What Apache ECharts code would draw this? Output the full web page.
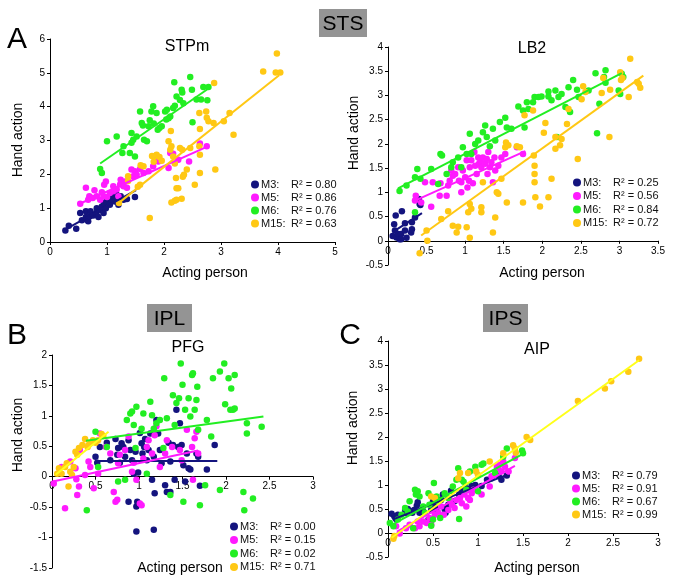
<!DOCTYPE html>
<html><head><meta charset="utf-8">
<script src="https://cdn.jsdelivr.net/npm/echarts@6/dist/echarts.min.js"></script>
<style>html,body{margin:0;padding:0;background:#fff}#c{width:675px;height:587px}</style>
</head><body><div id="c"></div>
<script>
// ---------- DATA ----------
var groups = ['M3','M5','M6','M15'];
// Panel A: STPm
var A_M3 = [[0.27,0.34],[0.33,0.48],[0.46,0.39],[0.53,0.86],[0.56,0.64],[0.63,0.74],[0.63,0.91],[0.65,0.66],[0.67,0.61],[0.7,0.76],[0.71,0.91],[0.76,0.78],[0.81,0.86],[0.82,1.0],[0.85,0.74],[0.88,0.94],[0.91,1.05],[0.94,0.86],[0.95,1.15],[0.98,1.0],[0.99,1.2],[1.02,1.3],[1.05,1.1],[1.08,1.25],[1.11,1.35],[1.14,1.2],[1.17,1.4],[1.2,1.27],[1.2,1.1],[1.24,1.35],[1.29,1.25],[1.35,1.27],[1.49,1.33]];
var A_M5 = [[0.53,1.13],[0.63,1.6],[0.67,1.25],[0.69,1.35],[0.75,1.3],[0.78,1.53],[0.82,1.35],[0.88,1.25],[0.91,1.47],[0.94,1.35],[0.95,1.69],[0.98,1.79],[1.0,1.33],[1.05,1.45],[1.11,1.65],[1.11,1.5],[1.17,1.55],[1.2,1.35],[1.23,1.7],[1.24,1.84],[1.29,1.65],[1.32,1.79],[1.35,1.6],[1.43,2.14],[1.46,1.94],[1.49,2.09],[1.52,1.99],[1.58,2.16],[1.64,2.04],[1.73,2.09],[1.81,2.24],[1.9,2.38],[2.08,2.19],[2.11,2.63],[2.16,2.61],[2.25,2.43],[2.44,2.38],[2.63,2.91],[2.75,2.83]];
var A_M6 = [[0.88,2.16],[0.91,2.04],[1.0,2.98],[1.17,3.12],[1.27,2.63],[1.29,2.83],[1.4,2.63],[1.43,2.93],[1.43,3.22],[1.46,3.02],[1.49,2.53],[1.52,3.12],[1.58,3.86],[1.61,3.52],[1.63,3.44],[1.65,3.02],[1.7,2.98],[1.73,3.42],[1.75,3.6],[1.78,3.86],[1.81,4.01],[1.82,3.5],[1.87,3.81],[1.89,3.32],[1.92,3.37],[1.96,3.42],[2.02,3.86],[2.04,3.62],[2.05,3.91],[2.08,3.66],[2.11,3.71],[2.16,3.96],[2.18,4.72],[2.19,4.03],[2.22,4.3],[2.28,4.2],[2.31,4.5],[2.32,4.42],[2.34,4.1],[2.46,4.88],[2.49,4.5],[2.5,3.54],[2.57,4.21],[2.65,4.21],[2.69,4.58],[2.76,4.19],[2.78,4.58]];
var A_M15 = [[1.21,1.15],[1.37,1.8],[1.37,1.94],[1.54,1.63],[1.58,1.69],[1.59,2.27],[1.64,2.24],[1.75,0.71],[1.79,2.54],[1.82,2.37],[1.85,2.54],[1.87,2.58],[1.92,2.51],[1.96,2.4],[2.08,2.98],[2.11,2.73],[2.12,3.28],[2.13,2.83],[2.13,1.17],[2.16,2.53],[2.19,2.32],[2.19,1.22],[2.21,1.89],[2.22,1.59],[2.22,1.25],[2.25,1.59],[2.28,2.78],[2.31,1.28],[2.32,2.73],[2.33,1.93],[2.35,1.99],[2.4,2.14],[2.46,2.78],[2.54,1.69],[2.62,2.83],[2.62,3.81],[2.63,2.58],[2.63,2.04],[2.63,3.34],[2.74,3.86],[2.75,3.67],[2.78,3.57],[2.87,3.52],[2.88,4.7],[2.9,2.14],[3.05,3.57],[3.15,3.81],[3.22,3.17],[3.74,5.04],[3.96,5.01],[3.98,5.57],[4.04,5.01]];
var A_fit = {M3:[[0.28,0.38],[1.51,1.53]], M5:[[0.52,1.13],[2.76,2.82]], M6:[[0.88,2.32],[2.8,4.56]], M15:[[1.18,1.12],[4.02,4.93]]};
var A_r2 = {M3:'0.80', M5:'0.86', M6:'0.76', M15:'0.63'};

// Panel LB2
var B_M3 = [[0.06,0.1],[0.08,0.34],[0.09,0.21],[0.1,0.52],[0.11,0.07],[0.13,0.14],[0.15,0.03],[0.17,0.14],[0.17,0.03],[0.18,0.61],[0.22,0.21],[0.22,0.36],[0.24,0.06],[0.3,0.17],[0.31,0.24],[0.31,0.38],[0.35,0.48],[0.4,0.86],[0.41,0.76],[0.42,0.74]];
var B_M5 = [[0.35,0.83],[0.36,0.93],[0.43,0.79],[0.48,1.21],[0.56,0.7],[0.58,1.21],[0.67,0.93],[0.68,1.19],[0.76,0.93],[0.78,1.14],[0.8,1.24],[0.82,1.45],[0.84,1.34],[0.87,1.38],[0.91,1.52],[0.92,1.24],[0.95,1.21],[0.95,1.0],[0.97,1.45],[1.0,1.31],[1.02,1.66],[1.03,1.1],[1.05,1.24],[1.06,1.52],[1.08,1.66],[1.1,1.19],[1.12,1.83],[1.13,1.55],[1.15,1.38],[1.17,1.72],[1.18,1.59],[1.2,1.66],[1.21,1.52],[1.23,1.72],[1.26,1.59],[1.28,1.69],[1.29,1.38],[1.3,1.83],[1.32,1.52],[1.34,1.62],[1.36,1.21],[1.38,1.72],[1.39,1.45],[1.43,1.55],[1.47,1.72],[1.52,1.79],[1.67,1.93],[1.75,1.79]];
var B_M6 = [[0.15,1.03],[0.24,1.14],[0.35,1.31],[0.35,0.59],[0.38,1.48],[0.42,1.28],[0.56,1.48],[0.65,1.17],[0.68,1.79],[0.7,1.76],[0.76,1.38],[0.82,1.52],[0.84,1.62],[0.91,1.72],[0.95,1.52],[0.97,1.93],[1.02,1.79],[1.06,2.21],[1.08,1.79],[1.13,2.0],[1.17,2.07],[1.23,2.24],[1.26,2.38],[1.28,2.14],[1.32,1.95],[1.36,2.31],[1.39,2.07],[1.45,2.45],[1.52,2.54],[1.54,2.34],[1.6,2.31],[1.69,2.77],[1.75,2.69],[1.77,2.34],[1.8,2.86],[1.82,2.72],[1.88,2.86],[1.9,2.97],[1.95,2.97],[1.99,2.98],[2.08,2.98],[2.08,3.08],[2.12,2.9],[2.17,3.1],[2.19,2.14],[2.21,2.97],[2.25,3.03],[2.3,2.76],[2.34,3.17],[2.36,2.66],[2.4,3.32],[2.45,3.12],[2.47,2.97],[2.6,3.1],[2.69,3.46],[2.71,2.22],[2.74,2.83],[2.8,3.38],[2.82,3.52],[2.82,3.26],[2.99,3.1],[3.01,3.03],[3.03,3.45],[3.05,3.38]];
var B_M15 = [[0.41,-0.26],[0.5,0.21],[0.51,0.0],[0.69,0.45],[0.78,0.61],[0.84,0.31],[0.89,0.17],[0.91,0.29],[1.02,0.28],[1.04,0.59],[1.06,0.06],[1.06,0.76],[1.08,0.66],[1.21,0.69],[1.21,0.59],[1.23,1.21],[1.36,0.17],[1.39,0.48],[1.41,1.0],[1.43,0.97],[1.47,1.28],[1.52,1.93],[1.53,2.03],[1.54,0.79],[1.56,1.97],[1.67,1.95],[1.71,1.93],[1.75,0.79],[1.77,2.59],[1.88,2.69],[1.89,1.76],[1.9,1.55],[1.9,1.38],[1.9,1.21],[1.91,0.9],[1.97,0.71],[2.02,2.23],[2.04,2.43],[2.08,0.9],[2.12,1.28],[2.17,1.9],[2.17,2.14],[2.23,1.97],[2.25,2.1],[2.32,2.41],[2.34,2.72],[2.46,1.69],[2.51,2.92],[2.53,3.19],[2.56,3.07],[2.77,3.05],[2.79,3.36],[2.87,2.14],[2.88,3.12],[3.01,3.48],[3.02,3.32],[3.04,3.36],[3.12,2.97],[3.14,3.76],[3.23,3.28],[3.25,3.24],[3.27,3.16]];
var B_fit = {M3:[[0.09,0.21],[0.44,0.57]], M5:[[0.35,0.83],[1.78,1.85]], M6:[[0.13,1.08],[3.03,3.46]], M15:[[0.43,0.11],[3.31,3.41]]};
var B_r2 = {M3:'0.25', M5:'0.56', M6:'0.84', M15:'0.72'};

// Panel PFG
var C_M3 = [[0.5,0.33],[0.52,0.23],[0.55,0.49],[0.63,0.56],[0.67,0.27],[0.73,0.62],[0.75,0.36],[0.76,0.47],[0.78,0.23],[0.8,0.55],[0.82,0.49],[0.84,0.33],[0.88,0.6],[0.88,-0.41],[0.9,0.44],[0.92,0.27],[0.94,0.05],[0.96,0.41],[0.97,-0.49],[0.97,-0.9],[0.98,-0.41],[0.99,0.07],[1.01,0.72],[1.03,0.55],[1.04,0.38],[1.06,0.49],[1.07,0.62],[1.09,0.27],[1.11,0.44],[1.13,0.71],[1.15,-0.05],[1.17,0.33],[1.17,-0.87],[1.18,-0.27],[1.2,0.93],[1.22,0.71],[1.24,0.44],[1.26,0.22],[1.3,-0.14],[1.32,-0.25],[1.34,0.56],[1.36,-0.25],[1.36,0.25],[1.39,0.52],[1.41,-0.05],[1.43,1.1],[1.45,0.49],[1.47,0.88],[1.49,0.52],[1.51,0.19],[1.53,-0.08],[1.55,0.38],[1.57,0.14],[1.59,0.12],[1.66,0.38],[1.68,0.33],[1.7,-0.15],[1.78,0.12],[1.87,0.52]];
var C_M5 = [[0.02,-0.11],[0.11,0.16],[0.15,-0.52],[0.21,0.25],[0.27,0.14],[0.28,-0.04],[0.29,-0.3],[0.31,-0.16],[0.32,0.44],[0.38,0.03],[0.42,0.25],[0.44,0.16],[0.48,-0.19],[0.53,0.05],[0.55,0.71],[0.62,0.49],[0.67,0.38],[0.71,-0.25],[0.73,-0.41],[0.75,-0.38],[0.76,0.22],[0.78,0.36],[0.84,0.44],[0.88,0.66],[0.92,0.08],[0.94,0.23],[0.97,-0.05],[1.01,-0.44],[1.03,-0.47],[1.05,0.3],[1.09,0.49],[1.11,0.6],[1.15,0.38],[1.18,0.68],[1.2,0.83],[1.24,0.16],[1.3,0.38],[1.32,0.6],[1.38,0.49],[1.47,0.44],[1.49,0.27],[1.55,0.77],[1.61,0.49],[1.62,-0.05],[1.64,0.63],[1.66,0.74],[1.68,0.38]];
var C_M6 = [[0.4,-0.55],[0.5,0.74],[0.53,0.16],[0.63,0.49],[0.76,-0.08],[0.84,-0.05],[0.86,0.93],[0.9,1.04],[0.92,1.07],[0.94,0.85],[0.96,0.47],[0.97,1.15],[1.03,0.79],[1.05,1.04],[1.09,0.05],[1.13,1.23],[1.15,1.01],[1.17,0.79],[1.2,0.88],[1.24,0.93],[1.28,0.47],[1.29,1.62],[1.32,0.96],[1.36,-0.3],[1.39,1.34],[1.41,0.85],[1.43,1.21],[1.46,1.29],[1.48,1.86],[1.5,1.51],[1.51,-0.41],[1.53,1.1],[1.57,1.29],[1.59,0.99],[1.61,1.67],[1.62,1.7],[1.64,1.1],[1.66,1.26],[1.67,1.48],[1.68,0.77],[1.7,-0.47],[1.76,-0.14],[1.78,0.93],[1.83,0.66],[1.85,1.62],[1.93,1.73],[1.93,-0.22],[1.98,1.86],[1.99,1.19],[2.03,1.62],[2.05,1.1],[2.06,1.45],[2.08,1.1],[2.1,1.67],[2.1,1.12],[2.2,-0.25],[2.21,-0.55],[2.24,0.71],[2.24,0.88],[2.31,-0.36],[2.41,0.82]];
var C_M15 = [[0.06,0.05],[0.08,0.14],[0.11,0.05],[0.15,0.16],[0.17,0.22],[0.19,-0.16],[0.21,0.08],[0.23,0.03],[0.25,0.16],[0.27,0.41],[0.29,0.36],[0.31,0.47],[0.35,0.52],[0.38,0.62],[0.41,0.49],[0.42,0.52],[0.44,0.55],[0.47,0.6],[0.5,0.56],[0.53,0.6],[0.57,0.7],[0.59,0.67]];
var C_fit = {M3:[[0.5,0.26],[1.9,0.26]], M5:[[0.01,-0.08],[1.68,0.43]], M6:[[0.39,0.59],[2.43,0.99]], M15:[[0.04,0.03],[0.65,0.74]]};
var C_r2 = {M3:'0.00', M5:'0.15', M6:'0.02', M15:'0.71'};

// Panel AIP
var D_M3 = [[0.04,0.4],[0.07,0.35],[0.09,0.29],[0.11,0.38],[0.19,0.48],[0.2,0.42],[0.22,0.5],[0.25,0.45],[0.27,0.42],[0.29,0.48],[0.32,0.57],[0.33,0.64],[0.35,0.42],[0.39,0.45],[0.45,0.28],[0.48,0.26],[0.48,0.48],[0.5,0.66],[0.52,0.55],[0.54,0.45],[0.56,0.57],[0.59,0.69],[0.61,0.8],[0.63,0.5],[0.64,0.42],[0.67,0.59],[0.7,0.88],[0.74,0.66],[0.79,0.8],[0.82,0.87],[0.87,0.93],[0.91,0.9],[0.93,0.98],[0.97,1.0],[1.04,0.98],[1.1,1.11],[1.15,1.14],[1.23,1.19],[1.26,1.11],[1.32,1.2]];
var D_M5 = [[0.09,0.14],[0.13,-0.01],[0.2,0.1],[0.24,0.17],[0.3,0.1],[0.33,0.24],[0.35,0.14],[0.39,0.24],[0.43,0.21],[0.46,0.31],[0.48,0.17],[0.52,0.38],[0.56,0.42],[0.59,0.55],[0.62,0.38],[0.67,0.48],[0.69,0.69],[0.71,0.59],[0.74,0.52],[0.76,0.69],[0.8,0.73],[0.82,0.62],[0.85,0.8],[0.87,0.55],[0.89,0.73],[0.91,0.69],[0.93,0.83],[0.95,0.9],[1.04,0.8],[1.13,0.97],[1.15,1.18],[1.18,1.21],[1.21,1.38],[1.23,1.31],[1.24,1.42],[1.26,1.28],[1.28,1.49],[1.3,1.38],[1.34,1.28],[1.41,1.56]];
var D_M6 = [[0.02,0.21],[0.06,0.14],[0.11,0.28],[0.15,0.38],[0.19,0.52],[0.22,0.45],[0.24,0.66],[0.28,0.1],[0.3,0.9],[0.31,0.8],[0.33,0.87],[0.35,0.76],[0.39,0.55],[0.41,0.42],[0.45,0.83],[0.46,0.59],[0.48,0.15],[0.5,0.28],[0.51,1.04],[0.54,0.76],[0.56,0.66],[0.58,0.31],[0.63,0.83],[0.67,0.73],[0.72,0.97],[0.76,1.11],[0.78,1.35],[0.79,0.29],[0.82,1.11],[0.84,1.07],[0.87,0.9],[0.91,1.28],[0.97,1.38],[1.0,0.87],[1.04,1.42],[1.06,1.45],[1.19,1.25],[1.28,1.59],[1.32,1.76],[1.49,1.72],[1.5,1.66]];
var D_M15 = [[0.06,-0.12],[0.07,-0.06],[0.48,0.76],[0.52,0.73],[0.78,1.14],[0.8,1.25],[0.89,1.25],[0.98,1.28],[1.0,1.21],[1.13,1.49],[1.28,1.66],[1.39,1.83],[1.41,1.76],[1.42,1.67],[1.54,2.0],[1.58,1.94],[2.11,2.75],[2.41,3.01],[2.48,3.16],[2.67,3.36],[2.79,3.63]];
var D_fit = {M3:[[0.05,0.28],[1.32,1.21]], M5:[[0.1,0.03],[1.41,1.4]], M6:[[0.02,0.15],[1.5,1.65]], M15:[[0.04,-0.1],[2.79,3.6]]};
var D_r2 = {M3:'0.79', M5:'0.91', M6:'0.67', M15:'0.99'};

// Axis ranges
var xMin=[0,0,0,0], xMax=[5,3.5,3,3], xInt=[1,0.5,0.5,0.5];
var yMin=[0,-0.5,-1.5,-0.5], yMax=[6,4,2,4], yInt=[1,0.5,0.5,0.5];

// ---------- STYLE ----------
var FONT = "'Liberation Sans', Arial, sans-serif";
var dotColor = {M3:'#14147e', M5:'#ff1aff', M6:'#22ee22', M15:'#ffc814'};
var grids = [
  {left:50, top:39, width:285, height:203},
  {left:388, top:47, width:270, height:218},
  {left:52, top:355, width:261, height:213},
  {left:388, top:341, width:270, height:216}
];
var panelData = [
  {M3:A_M3,M5:A_M5,M6:A_M6,M15:A_M15, fit:A_fit, r2:A_r2, fitColor15:'#ffc814'},
  {M3:B_M3,M5:B_M5,M6:B_M6,M15:B_M15, fit:B_fit, r2:B_r2, fitColor15:'#ffc814'},
  {M3:C_M3,M5:C_M5,M6:C_M6,M15:C_M15, fit:C_fit, r2:C_r2, fitColor15:'#ffff1a'},
  {M3:D_M3,M5:D_M5,M6:D_M6,M15:D_M15, fit:D_fit, r2:D_r2, fitColor15:'#ffff1a'}
];
var legendPos = [
  {left:251, top:179, gap:2},
  {left:573, top:177, gap:2.5},
  {left:230, top:521, gap:2.5},
  {left:572, top:470, gap:2}
];

var xAxes=[], yAxes=[], series=[], legends=[];
for (var i=0;i<4;i++){
  var axCommon = {
    axisTick:{show:true,length:3,lineStyle:{color:'#000'}},
    axisLabel:{color:'#000',fontSize:10,fontFamily:FONT,margin:5},
    splitLine:{show:false}
  };
  // x axis sits on the y=0 line: shift it up from the grid bottom by the zero position
  var zeroOffset = grids[i].height * (0 - yMin[i]) / (yMax[i] - yMin[i]);
  var xa = Object.assign({type:'value',gridIndex:i,position:'bottom',min:xMin[i],max:xMax[i],interval:xInt[i],offset:-zeroOffset},
    JSON.parse(JSON.stringify(axCommon)));
  xa.axisLine = {show:true,onZero:false,lineStyle:{color:'#000',width:1}};
  xAxes.push(xa);
  var ya = Object.assign({type:'value',gridIndex:i,min:yMin[i],max:yMax[i],interval:yInt[i]}, JSON.parse(JSON.stringify(axCommon)));
  ya.axisLine = {show:true,onZero:false,lineStyle:{color:'#000',width:1}};
  yAxes.push(ya);
  var pd = panelData[i];
  groups.forEach(function(g){
    series.push({type:'scatter',name:g,xAxisIndex:i,yAxisIndex:i,data:pd[g],symbol:'circle',symbolSize:6.5,
      itemStyle:{color:dotColor[g],opacity:1},emphasis:{disabled:true},z:2});
  });
  groups.forEach(function(g){
    var c = g==='M15' ? pd.fitColor15 : dotColor[g];
    series.push({type:'line',name:g+' fit',xAxisIndex:i,yAxisIndex:i,data:pd.fit[g],showSymbol:false,symbol:'none',
      lineStyle:{color:c,width:2},silent:true,z:3,animation:false});
  });
  (function(r2){
    legends.push({
      orient:'vertical', left:legendPos[i].left, top:legendPos[i].top,
      data:groups.slice(), icon:'circle', itemWidth:8, itemHeight:8, itemGap:legendPos[i].gap,
      selectedMode:false, padding:0,
      formatter:function(n){return '{a|'+n+':}{b|R\u00B2 = '+r2[n]+'}';},
      textStyle:{fontSize:11,fontFamily:FONT,color:'#111',padding:[0,0,0,-3],
        rich:{a:{width:30,fontSize:11,fontFamily:FONT,color:'#111',lineHeight:12},b:{fontSize:11,fontFamily:FONT,color:'#111',lineHeight:12}}}
    });
  })(pd.r2);
}

function txt(x,y,s,size,rot){
  return {type:'text',x:x,y:y,rotation:rot||0,silent:true,
    style:{text:s,fontSize:size,fontFamily:FONT,fill:'#000',align:'center',verticalAlign:'middle'}};
}
function box(x,y,w,h,s){
  return [{type:'rect',shape:{x:x,y:y,width:w,height:h},style:{fill:'#949494'},silent:true},
          txt(x+w/2,y+h/2+1,s,21)];
}
var graphics = [].concat(
  box(319,9,48,28,'STS'), box(147,304,45,28,'IPL'), box(483,304,45,28,'IPS'),
  [txt(17,40,'A',30), txt(17,336,'B',30), txt(350,336,'C',30),
   txt(187,47,'STPm',16), txt(532,49,'LB2',16), txt(188,348,'PFG',16), txt(537,350,'AIP',16),
   txt(18,140,'Hand action',14,Math.PI/2), txt(354,133,'Hand action',14,Math.PI/2),
   txt(18,435,'Hand action',14,Math.PI/2), txt(353,428,'Hand action',14,Math.PI/2),
   txt(205,273,'Acting person',14), txt(542,273,'Acting person',14),
   txt(180,568,'Acting person',14), txt(537,568,'Acting person',14)]
);

var chart = echarts.init(document.getElementById('c'), null, {renderer:'canvas'});
chart.setOption({
  animation:false,
  backgroundColor:'#fff',
  grid:grids.map(function(g){return Object.assign({containLabel:false},g);}),
  xAxis:xAxes, yAxis:yAxes, series:series, legend:legends, graphic:graphics
});
</script></body></html>
